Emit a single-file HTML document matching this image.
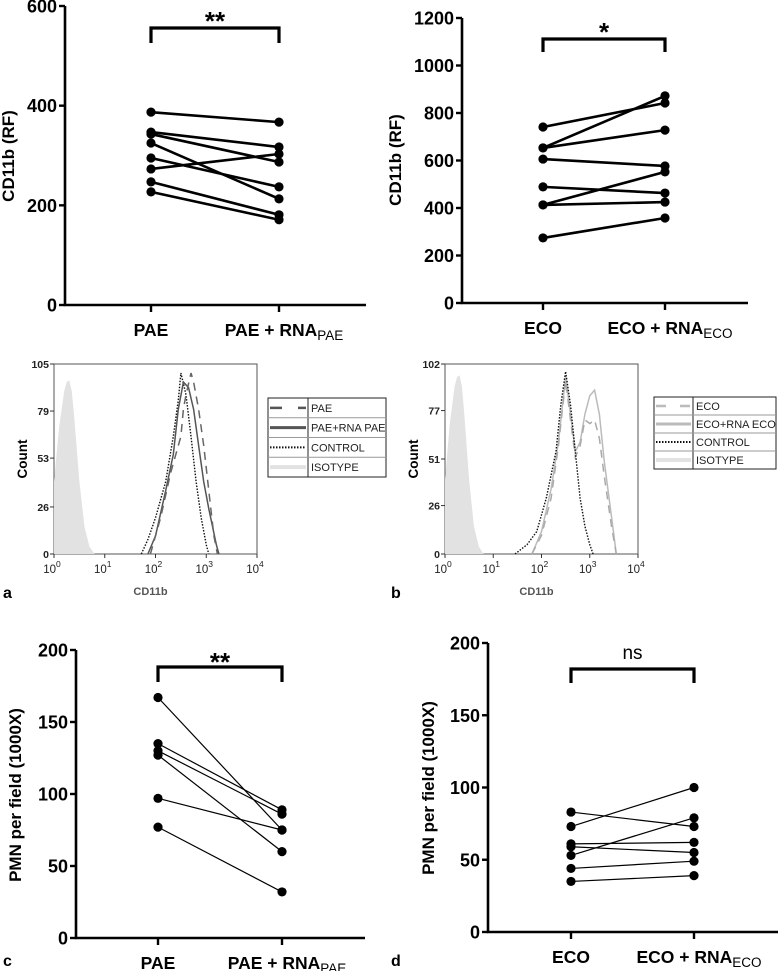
<!DOCTYPE html>
<html><head><meta charset="utf-8">
<style>
html,body{margin:0;padding:0;background:#fff;}
svg{display:block;font-family:"Liberation Sans",Arial,sans-serif;}
</style></head>
<body>
<svg id="fig" width="779" height="971" viewBox="0 0 779 971"></svg>
<script>
// ---- Panel top-left (CD11b PAE) ----
const catsA = ["PAE", "PAE + RNA"];
const paeBefore = [387, 347, 343, 325, 295, 273, 247, 227];
const paeAfter  = [367, 317, 287, 213, 237, 303, 181, 171];
const ticksA = [0, 200, 400, 600];
// ---- Panel top-right (CD11b ECO) ----
const ecoBefore = [741, 653, 653, 606, 489, 413, 413, 274];
const ecoAfter  = [842, 872, 728, 577, 463, 552, 425, 358];
const ticksB = [0, 200, 400, 600, 800, 1000, 1200];
// ---- Panel c (PMN PAE) ----
const pmnPaeBefore = [167, 135, 130, 127, 97, 77];
const pmnPaeAfter  = [75, 89, 86, 60, 75, 32];
const ticksC = [0, 50, 100, 150, 200];
// ---- Panel d (PMN ECO) ----
const pmnEcoBefore = [83, 73, 61, 59, 53, 44, 35];
const pmnEcoAfter  = [73, 100, 62, 55, 79, 49, 39];
// ---- Histograms ----
const histTicksA = [0, 26, 53, 79, 105];
const histTicksB = [0, 26, 51, 77, 102];
const isoLog = [0,0.1,0.2,0.25,0.3,0.35,0.4,0.5,0.6,0.7,0.8];
const isoCnt = [40,70,90,95,96,90,75,40,15,4,0];
const aCtrlLog = [1.72,1.85,2.0,2.2,2.35,2.45,2.5,2.6,2.7,2.8,2.9,3.0,3.05];
const aCtrlCnt = [0,8,20,40,65,85,100,88,65,40,20,5,0];
const aRnaLog = [1.85,2.0,2.2,2.35,2.45,2.55,2.65,2.75,2.85,2.95,3.05,3.2,3.25];
const aRnaCnt = [0,10,35,55,80,95,92,80,60,40,25,5,0];
const aPaeLog = [1.9,2.1,2.3,2.5,2.55,2.6,2.7,2.75,2.85,2.95,3.05,3.15,3.22];
const aPaeCnt = [0,20,45,65,80,88,100,95,80,60,35,10,0];
const bCtrlLog = [1.45,1.7,1.9,2.1,2.3,2.4,2.5,2.6,2.7,2.8,2.9,3.0,3.07];
const bCtrlCnt = [0,5,12,30,55,80,98,80,55,30,15,5,0];
const bRnaLog = [1.8,2.0,2.2,2.35,2.5,2.6,2.7,2.8,2.9,3.0,3.1,3.2,3.3,3.45,3.55];
const bRnaCnt = [0,12,35,60,95,75,55,60,75,85,88,75,50,20,0];
const bEcoLog = [1.8,2.0,2.2,2.35,2.5,2.6,2.7,2.8,2.9,3.0,3.1,3.2,3.3,3.45,3.55];
const bEcoCnt = [0,10,30,58,93,72,52,58,72,70,72,62,42,15,0];

const NS = "http://www.w3.org/2000/svg";
const svg = document.getElementById("fig");
function mk(tag, attrs, parent){
  const e = document.createElementNS(NS, tag);
  for (const k in attrs) e.setAttribute(k, attrs[k]);
  (parent||svg).appendChild(e);
  return e;
}
function txt(x,y,s,size,weight,anchor,fill){
  const t = mk("text",{x:x,y:y,"font-size":size,"font-weight":weight||"bold","text-anchor":anchor||"middle",fill:fill||"#000"});
  t.textContent = s;
  return t;
}

function pairedChart(o){
  const ys = v => o.y0 - (v/o.max)*(o.y0-o.yTop);
  const xc = [o.x1, o.x2];
  const ax = mk("path",{d:`M${o.ax},${o.yTop} V${o.y0} H${o.xEnd}`,stroke:"#000","stroke-width":2.6,fill:"none"});
  
  
  o.ticks.forEach(t=>{
    mk("line",{x1:o.ax-6,x2:o.ax,y1:ys(t),y2:ys(t),stroke:"#000","stroke-width":2.4});
    const tl = txt(o.ax-8, ys(t)+6.5, String(t), 18, "bold", "end");
    
    
  });
  xc.forEach(x=>mk("line",{x1:x,x2:x,y1:o.y0,y2:o.y0+7,stroke:"#000","stroke-width":2.4}));
  const l1 = txt(xc[0], o.y0+31, o.cat1, 17.5, "bold");
  
  
  const l2 = txt(xc[1]+5, o.y0+31, "", 17.5, "bold");
  
  
  l2.innerHTML = o.cat2 + '<tspan font-weight="normal" font-size="13.5" dy="4">'+o.sub+'</tspan>';
  const yt = txt(0,0,o.ytitle,17,"bold");
  yt.setAttribute("transform",`translate(${o.ytX},${o.ytY}) rotate(-90)`);
  
  
  const br = mk("path",{d:`M${xc[0]},${o.bBot} V${o.bTop} H${xc[1]} V${o.bBot}`,stroke:"#000","stroke-width":3.2,fill:"none"});
  
  
  const st = txt((xc[0]+xc[1])/2, o.bTop-o.sigOff, o.sig, o.sigSize, o.sigWeight);
  
  
  o.before.forEach((v,i)=>{
    const ln = mk("line",{x1:xc[0],y1:ys(v),x2:xc[1],y2:ys(o.after[i]),stroke:"#000","stroke-width":o.lw});
    
    
  });
  o.before.forEach((v,i)=>{
    const c1 = mk("circle",{cx:xc[0],cy:ys(v),r:4.6,fill:"#000"});
    
    
    const c2 = mk("circle",{cx:xc[1],cy:ys(o.after[i]),r:4.6,fill:"#000"});
    
    
  });
}

pairedChart({name:"cd11b-pae",ax:65,yTop:6,y0:305,xEnd:366,max:600,ticks:ticksA,x1:151,x2:279,
  cat1:"PAE",cat2:"PAE + RNA",sub:"PAE",ytitle:"CD11b (RF)",ytX:14,ytY:156,
  bTop:28,bBot:43,sig:"**",sigOff:-2,sigSize:26,sigWeight:"bold",before:paeBefore,after:paeAfter,lw:2.6});
pairedChart({name:"cd11b-eco",ax:462,yTop:18,y0:303,xEnd:748,max:1200,ticks:ticksB,x1:543,x2:665,
  cat1:"ECO",cat2:"ECO + RNA",sub:"ECO",ytitle:"CD11b (RF)",ytX:401,ytY:160,
  bTop:39,bBot:52,sig:"*",sigOff:-2,sigSize:26,sigWeight:"bold",before:ecoBefore,after:ecoAfter,lw:2.6});
pairedChart({name:"pmn-pae",ax:76,yTop:650,y0:938,xEnd:365,max:200,ticks:ticksC,x1:158,x2:282,
  cat1:"PAE",cat2:"PAE + RNA",sub:"PAE",ytitle:"PMN per field (1000X)",ytX:21,ytY:795,
  bTop:667,bBot:682,sig:"**",sigOff:-4,sigSize:26,sigWeight:"bold",before:pmnPaeBefore,after:pmnPaeAfter,lw:1.2});
pairedChart({name:"pmn-eco",ax:488,yTop:643,y0:932,xEnd:778,max:200,ticks:ticksC,x1:571,x2:694,
  cat1:"ECO",cat2:"ECO + RNA",sub:"ECO",ytitle:"PMN per field (1000X)",ytX:434,ytY:788,
  bTop:669,bBot:683,sig:"ns",sigOff:10,sigSize:19,sigWeight:"normal",before:pmnEcoBefore,after:pmnEcoAfter,lw:1.2});

function histogram(o){
  const xs = l => o.x0 + l*(o.x1-o.x0)/4;
  const ys = c => o.y0 - c/o.max*(o.y0-o.yTop);
  const fr = mk("rect",{x:o.x0,y:o.yTop,width:o.x1-o.x0,height:o.y0-o.yTop,fill:"none",stroke:"#555","stroke-width":1});
  
  
  o.ticks.forEach(t=>{
    mk("line",{x1:o.x0-4,x2:o.x0,y1:ys(t),y2:ys(t),stroke:"#333","stroke-width":1});
    const tl = txt(o.x0-5, ys(t)+4, String(t), 10.5, "bold", "end", "#222");
    
    
  });
  for(let d=0; d<=4; d++){
    mk("line",{x1:xs(d),x2:xs(d),y1:o.y0,y2:o.y0+4,stroke:"#333","stroke-width":1});
    const tl = txt(xs(d)-2, o.y0+19, "", 11.5, "normal", "middle", "#222");
    
    
    tl.innerHTML = '10<tspan font-size="8.5" dy="-6">'+d+'</tspan>';
  }
  const ct = txt(0,0,"Count",13.5,"bold");
  ct.setAttribute("transform",`translate(${o.x0-27},${(o.yTop+o.y0)/2}) rotate(-90)`);
  
  
  const xt = txt((o.x0+o.x1)/2-5, o.y0+41, "CD11b", 11, "bold", "middle", "#555");
  
  
  const pts = (L,C)=>L.map((l,i)=>xs(l).toFixed(1)+","+ys(C[i]).toFixed(1)).join(" ");
  const iso = mk("polygon",{points:xs(0)+","+ys(0)+" "+pts(isoLog,isoCnt),fill:"#e2e2e2",stroke:"none"});
  
  
  o.series.forEach(s=>{
    const p = mk("polyline",{points:pts(s.L,s.C),fill:"none",stroke:s.col,"stroke-width":s.w,"stroke-dasharray":s.dash||"none"});
    
    
  });
  const lg = mk("g",{});
  
  
  const rh = (o.ly1-o.ly0)/4;
  mk("rect",{x:o.lx0,y:o.ly0,width:o.lx1-o.lx0,height:o.ly1-o.ly0,fill:"#fff",stroke:"#222","stroke-width":1},lg);
  mk("line",{x1:o.ldiv,x2:o.ldiv,y1:o.ly0,y2:o.ly1,stroke:"#222","stroke-width":1},lg);
  o.legend.forEach((e,i)=>{
    const yy = o.ly0+rh*i;
    if(i>0) mk("line",{x1:o.lx0,x2:o.lx1,y1:yy,y2:yy,stroke:"#999","stroke-width":1},lg);
    mk("line",{x1:o.lx0+2,x2:o.ldiv-2,y1:yy+rh/2,y2:yy+rh/2,stroke:e.col,"stroke-width":e.w,"stroke-dasharray":e.dash||"none"},lg);
    const t = txt(o.ldiv+3, yy+rh/2+4, e.label, 11, "normal", "start", "#222");
    lg.appendChild(t);
    
    
  });
}

histogram({name:"hist-pae",x0:54,x1:257,yTop:364,y0:554,max:105,ticks:histTicksA,
  series:[
    {name:"control-curve",L:aCtrlLog,C:aCtrlCnt,col:"#111",w:1.4,dash:"1.5,1.5"},
    {name:"pae-rna-curve",L:aRnaLog,C:aRnaCnt,col:"#555",w:1.5},
    {name:"pae-curve",L:aPaeLog,C:aPaeCnt,col:"#666",w:1.5,dash:"8,6"}],
  lx0:268,lx1:386,ldiv:308,ly0:398,ly1:477,
  legend:[{label:"PAE",col:"#555",w:2.5,dash:"12,16"},{label:"PAE+RNA PAE",col:"#555",w:3},
          {label:"CONTROL",col:"#111",w:2,dash:"1.5,1.5"},{label:"ISOTYPE",col:"#e2e2e2",w:4}]});
histogram({name:"hist-eco",x0:445,x1:638,yTop:364,y0:554,max:102,ticks:histTicksB,
  series:[
    {name:"eco-rna-curve",L:bRnaLog,C:bRnaCnt,col:"#bbb",w:1.5},
    {name:"eco-curve",L:bEcoLog,C:bEcoCnt,col:"#aaa",w:1.5,dash:"8,6"},
    {name:"control-curve",L:bCtrlLog,C:bCtrlCnt,col:"#111",w:1.4,dash:"1.5,1.5"}],
  lx0:654,lx1:776,ldiv:693,ly0:397,ly1:469,
  legend:[{label:"ECO",col:"#bbb",w:2.5,dash:"10,14"},{label:"ECO+RNA ECO",col:"#bbb",w:3},
          {label:"CONTROL",col:"#111",w:2,dash:"1.5,1.5"},{label:"ISOTYPE",col:"#e2e2e2",w:4}]});

[["a",3,598],["b",391,598],["c",3,966],["d",391,966]].forEach(p=>{
  const t = txt(p[1],p[2],p[0],16,"bold","start");
  
  
});
</script>
</body></html>
